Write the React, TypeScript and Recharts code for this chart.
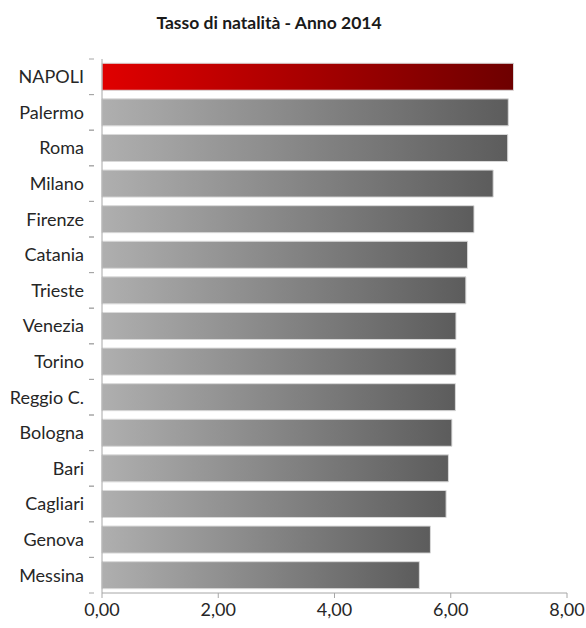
import React from "react";
import { BarChart, Bar, Cell, XAxis, YAxis } from "recharts";

const cities = [
  "NAPOLI", "Palermo", "Roma", "Milano", "Firenze", "Catania", "Trieste", "Venezia",
  "Torino", "Reggio C.", "Bologna", "Bari", "Cagliari", "Genova", "Messina",
];
const birthRate = [7.08, 6.99, 6.98, 6.73, 6.4, 6.29, 6.26, 6.09, 6.09, 6.08, 6.02, 5.96, 5.92, 5.65, 5.46];
const xTicks = [0, 2, 4, 6, 8];

const data = cities.map((city, i) => ({ city, value: birthRate[i] }));

const FONT = "Lato, 'Open Sans', sans-serif";
const TOP = 59;
const BOTTOM = 35;
const HEIGHT = 628;
const BAND = (HEIGHT - TOP - BOTTOM) / cities.length;

function CityTick({ x, y, payload }: { x?: number; y?: number; payload?: { value: string } }) {
  const yy = y ?? 0;
  const xx = x ?? 0;
  return (
    <g>
      <line x1={xx - 5} x2={xx} y1={yy - BAND / 2} y2={yy - BAND / 2} stroke="#a6a6a6" />
      <line x1={xx - 5} x2={xx} y1={yy + BAND / 2} y2={yy + BAND / 2} stroke="#a6a6a6" />
      <text x={84} y={yy} dy="0.36em" textAnchor="end" fontSize={18} fill="#262626" fontFamily={FONT}>
        {payload?.value}
      </text>
    </g>
  );
}

export default function App() {
  return (
    <div style={{ position: "absolute", left: 0, top: 0, width: 586, height: 628, background: "#fff" }}>
      <div
        style={{
          position: "absolute", top: 12, left: 0, width: 538, textAlign: "center",
          fontFamily: FONT, fontWeight: 700, fontSize: 17.5, color: "#1a1a1a",
        }}
      >
        Tasso di natalità - Anno 2014
      </div>
      <BarChart
        width={586} height={628} data={data} layout="vertical"
        margin={{ top: TOP, right: 19, left: 0, bottom: BOTTOM - 30 }}
        barCategoryGap="12%"
      >
        <defs>
          <linearGradient id="grayGrad" x1="0" y1="0" x2="1" y2="0">
            <stop offset="0%" stopColor="#afafaf" />
            <stop offset="100%" stopColor="#5c5c5c" />
          </linearGradient>
          <linearGradient id="redGrad" x1="0" y1="0" x2="1" y2="0">
            <stop offset="0%" stopColor="#e00000" />
            <stop offset="100%" stopColor="#6e0000" />
          </linearGradient>
        </defs>
        <XAxis
          type="number" domain={[0, 8]} ticks={xTicks} height={30}
          tickFormatter={v => v.toFixed(2).replace(".", ",")}
          tick={{ fontSize: 18, fill: "#262626", fontFamily: FONT }}
          stroke="#a6a6a6" tickSize={5} tickMargin={5}
        />
        <YAxis
          type="category" dataKey="city" width={102} stroke="#a6a6a6"
          tickLine={false} tick={<CityTick />} interval={0}
        />
        <Bar dataKey="value" isAnimationActive={false} stroke="#d9d9d9" strokeWidth={1}>
          {data.map((d, i) => (
            <Cell key={d.city} fill={i === 0 ? "url(#redGrad)" : "url(#grayGrad)"} />
          ))}
        </Bar>
      </BarChart>
    </div>
  );
}
